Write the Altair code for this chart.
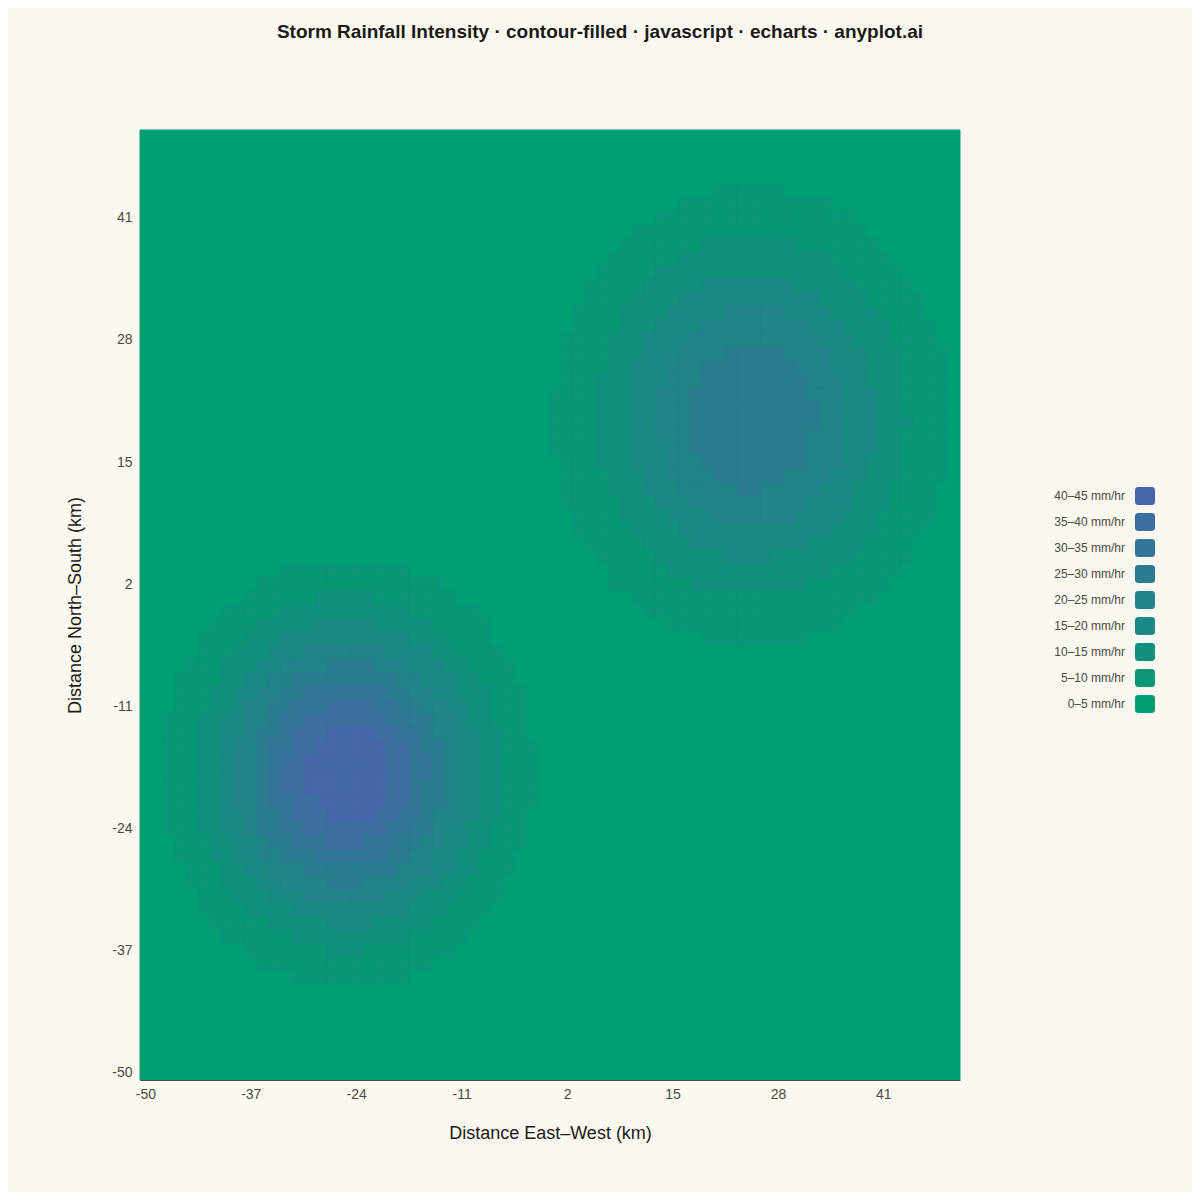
# Storm rainfall intensity: banded heatmap drawn as an Altair rect grid
import altair as alt
import pandas as pd

n_cells = 70

band_labels = ['0–5 mm/hr', '5–10 mm/hr', '10–15 mm/hr', '15–20 mm/hr', '20–25 mm/hr',
               '25–30 mm/hr', '30–35 mm/hr', '35–40 mm/hr', '40–45 mm/hr']
band_colors = ['#009E73', '#099776', '#11907D', '#1A8983', '#22838A',
               '#2B7C90', '#337597', '#3C6EA0', '#4467A9']

tick_cells = [0, 9, 18, 27, 36, 45, 54, 63]

# row from the top of the plot: (first cell of each band, end cell of each band), band 1 upward
south_west_storm = {
    32: ([12], [23]),
    33: ([10], [26]),
    34: ([9, 15], [27, 20]),
    35: ([7, 12], [29, 23]),
    36: ([6, 10, 15], [30, 25, 20]),
    37: ([5, 9, 12], [30, 26, 23]),
    38: ([5, 8, 11, 14], [31, 27, 25, 21]),
    39: ([4, 7, 10, 12, 16], [32, 28, 26, 23, 20]),
    40: ([3, 7, 9, 11, 13], [32, 29, 27, 24, 22]),
    41: ([3, 6, 8, 10, 12, 14], [33, 30, 27, 25, 23, 21]),
    42: ([3, 6, 8, 9, 11, 13, 16], [33, 30, 28, 26, 24, 22, 20]),
    43: ([2, 5, 7, 9, 11, 12, 14], [33, 30, 28, 27, 25, 23, 21]),
    44: ([2, 5, 7, 9, 10, 12, 13, 16], [33, 31, 29, 27, 25, 24, 22, 20]),
    45: ([2, 5, 7, 8, 10, 11, 13, 15], [34, 31, 29, 27, 26, 24, 23, 21]),
    46: ([2, 5, 7, 8, 10, 11, 12, 14], [34, 31, 29, 27, 26, 25, 23, 21]),
    47: ([2, 5, 7, 8, 10, 11, 12, 14], [34, 31, 29, 27, 26, 25, 23, 21]),
    48: ([2, 5, 7, 8, 10, 11, 12, 14], [34, 31, 29, 27, 26, 24, 23, 21]),
    49: ([2, 5, 7, 8, 10, 11, 13, 15], [34, 31, 29, 27, 26, 24, 23, 21]),
    50: ([2, 5, 7, 9, 10, 12, 13, 16], [33, 31, 29, 27, 25, 24, 22, 20]),
    51: ([2, 5, 7, 9, 10, 12, 14], [33, 30, 28, 26, 25, 23, 21]),
    52: ([3, 6, 8, 10, 11, 13, 16], [33, 30, 28, 26, 24, 22, 19]),
    53: ([3, 6, 8, 10, 12, 15], [32, 29, 27, 25, 23, 21]),
    54: ([4, 7, 9, 11, 14], [32, 29, 27, 25, 22]),
    55: ([4, 7, 10, 12, 16], [31, 28, 26, 23, 19]),
    56: ([5, 8, 11, 14], [31, 27, 24, 21]),
    57: ([5, 9, 13], [30, 26, 23]),
    58: ([6, 11, 16], [29, 25, 20]),
    59: ([7, 13], [28, 23]),
    60: ([9, 16], [27, 19]),
    61: ([10], [25]),
    62: ([13], [23]),
}

north_east_storm = {
    4: ([49], [55]),
    5: ([46], [59]),
    6: ([44], [61]),
    7: ([42], [62]),
    8: ([41, 48], [63, 56]),
    9: ([40, 46], [64, 59]),
    10: ([39, 44], [65, 60]),
    11: ([38, 43, 48], [66, 61, 56]),
    12: ([38, 42, 46], [67, 62, 58]),
    13: ([37, 41, 45, 50], [67, 63, 59, 55]),
    14: ([37, 41, 44, 48], [68, 64, 60, 57]),
    15: ([36, 40, 43, 47], [68, 64, 61, 58]),
    16: ([36, 40, 43, 46, 50], [69, 65, 62, 59, 55]),
    17: ([36, 40, 42, 45, 48], [69, 65, 62, 59, 56]),
    18: ([36, 39, 42, 45, 48], [69, 65, 62, 60, 57]),
    19: ([35, 39, 42, 44, 47], [69, 65, 63, 60, 57]),
    20: ([35, 39, 42, 44, 47], [69, 65, 63, 60, 58]),
    21: ([35, 39, 42, 44, 47], [69, 66, 63, 60, 58]),
    22: ([35, 39, 42, 44, 47], [69, 65, 63, 60, 57]),
    23: ([35, 39, 42, 45, 47], [69, 65, 63, 60, 57]),
    24: ([36, 39, 42, 45, 48], [69, 65, 62, 60, 57]),
    25: ([36, 40, 43, 45, 49], [69, 65, 62, 59, 55]),
    26: ([36, 40, 43, 46, 51], [68, 64, 61, 58, 53]),
    27: ([36, 41, 44, 47], [68, 64, 61, 57]),
    28: ([37, 41, 45, 49], [68, 63, 60, 56]),
    29: ([37, 42, 46], [67, 63, 59]),
    30: ([38, 43, 47], [66, 62, 57]),
    31: ([39, 44, 50], [66, 61, 54]),
    32: ([40, 45], [65, 59]),
    33: ([40, 47], [64, 57]),
    34: ([42], [63]),
    35: ([43], [61]),
    36: ([45], [60]),
    37: ([48], [57]),
}

grid = [[0] * n_cells for _ in range(n_cells)]
for storm in (south_west_storm, north_east_storm):
    for row, (starts, ends) in storm.items():
        for level, (start, end) in enumerate(zip(starts, ends), start=1):
            for col in range(start, end):
                grid[row][col] = level

df = pd.DataFrame(
    [{'ix': col, 'iy': n_cells - 1 - row, 'band': band_labels[grid[row][col]]}
     for row in range(n_cells) for col in range(n_cells)]
)

cream = '#FAF8F1'
ink = '#1A1A17'
soft_ink = '#4A4A44'
cell_label = "'' + round(datum.value * 100 / 69 - 50)"
rounded_box = ('M-0.7,-0.9H0.7A0.3,0.3 0 0 1 1,-0.6V0.6A0.3,0.3 0 0 1 0.7,0.9'
               'H-0.7A0.3,0.3 0 0 1 -1,0.6V-0.6A0.3,0.3 0 0 1 -0.7,-0.9Z')

band_scale = alt.Scale(domain=band_labels[::-1], range=band_colors[::-1])

chart = alt.Chart(df).mark_rect(strokeWidth=1).encode(
    x=alt.X('ix:O', scale=alt.Scale(paddingInner=0, paddingOuter=0),
            axis=alt.Axis(values=tick_cells, labelExpr=cell_label, labelAngle=0, ticks=False,
                          labelPadding=7, labelFontSize=14, labelColor=soft_ink,
                          labelFont='Liberation Sans', domainColor=soft_ink, domainWidth=1,
                          title='Distance East–West (km)', titleFontSize=18, titleFontWeight='normal',
                          titleFont='Liberation Sans', titleColor=ink, titlePadding=23, grid=False)),
    y=alt.Y('iy:O', sort='descending', scale=alt.Scale(paddingInner=0, paddingOuter=0),
            axis=alt.Axis(values=tick_cells, labelExpr=cell_label, ticks=False, domain=False,
                          labelPadding=8, labelFontSize=14, labelColor=soft_ink,
                          labelFont='Liberation Sans',
                          title='Distance North–South (km)', titleFontSize=18, titleFontWeight='normal',
                          titleFont='Liberation Sans', titleColor=ink, titlePadding=27, grid=False)),
    color=alt.Color('band:N', scale=band_scale,
                    legend=alt.Legend(orient='none', legendX=995, legendY=356, title=None,
                                      symbolType=rounded_box, symbolSize=400, symbolStrokeWidth=0,
                                      symbolOpacity=1, rowPadding=7, labelFontSize=12,
                                      labelColor=soft_ink, labelFont='Liberation Sans',
                                      labelAlign='right', labelOffset={'expr': '-30'}, labelLimit=200)),
    stroke=alt.Stroke('band:N', scale=band_scale, legend=None),
).properties(
    width=820,
    height=950,
    background=cream,
    padding={'left': 132, 'top': 122, 'right': 232, 'bottom': 112},
    autosize=alt.AutoSizeParams(type='none'),
    title=alt.TitleParams('Storm Rainfall Intensity · contour-filled · javascript · echarts · anyplot.ai',
                          anchor='middle', frame='group', dx=50, offset=88, fontSize=19,
                          fontWeight='bold', font='Liberation Sans', color=ink),
).configure_view(stroke=None, fill='#009E73')

chart.save('out.html', embed_options={'renderer': 'svg', 'actions': False})
